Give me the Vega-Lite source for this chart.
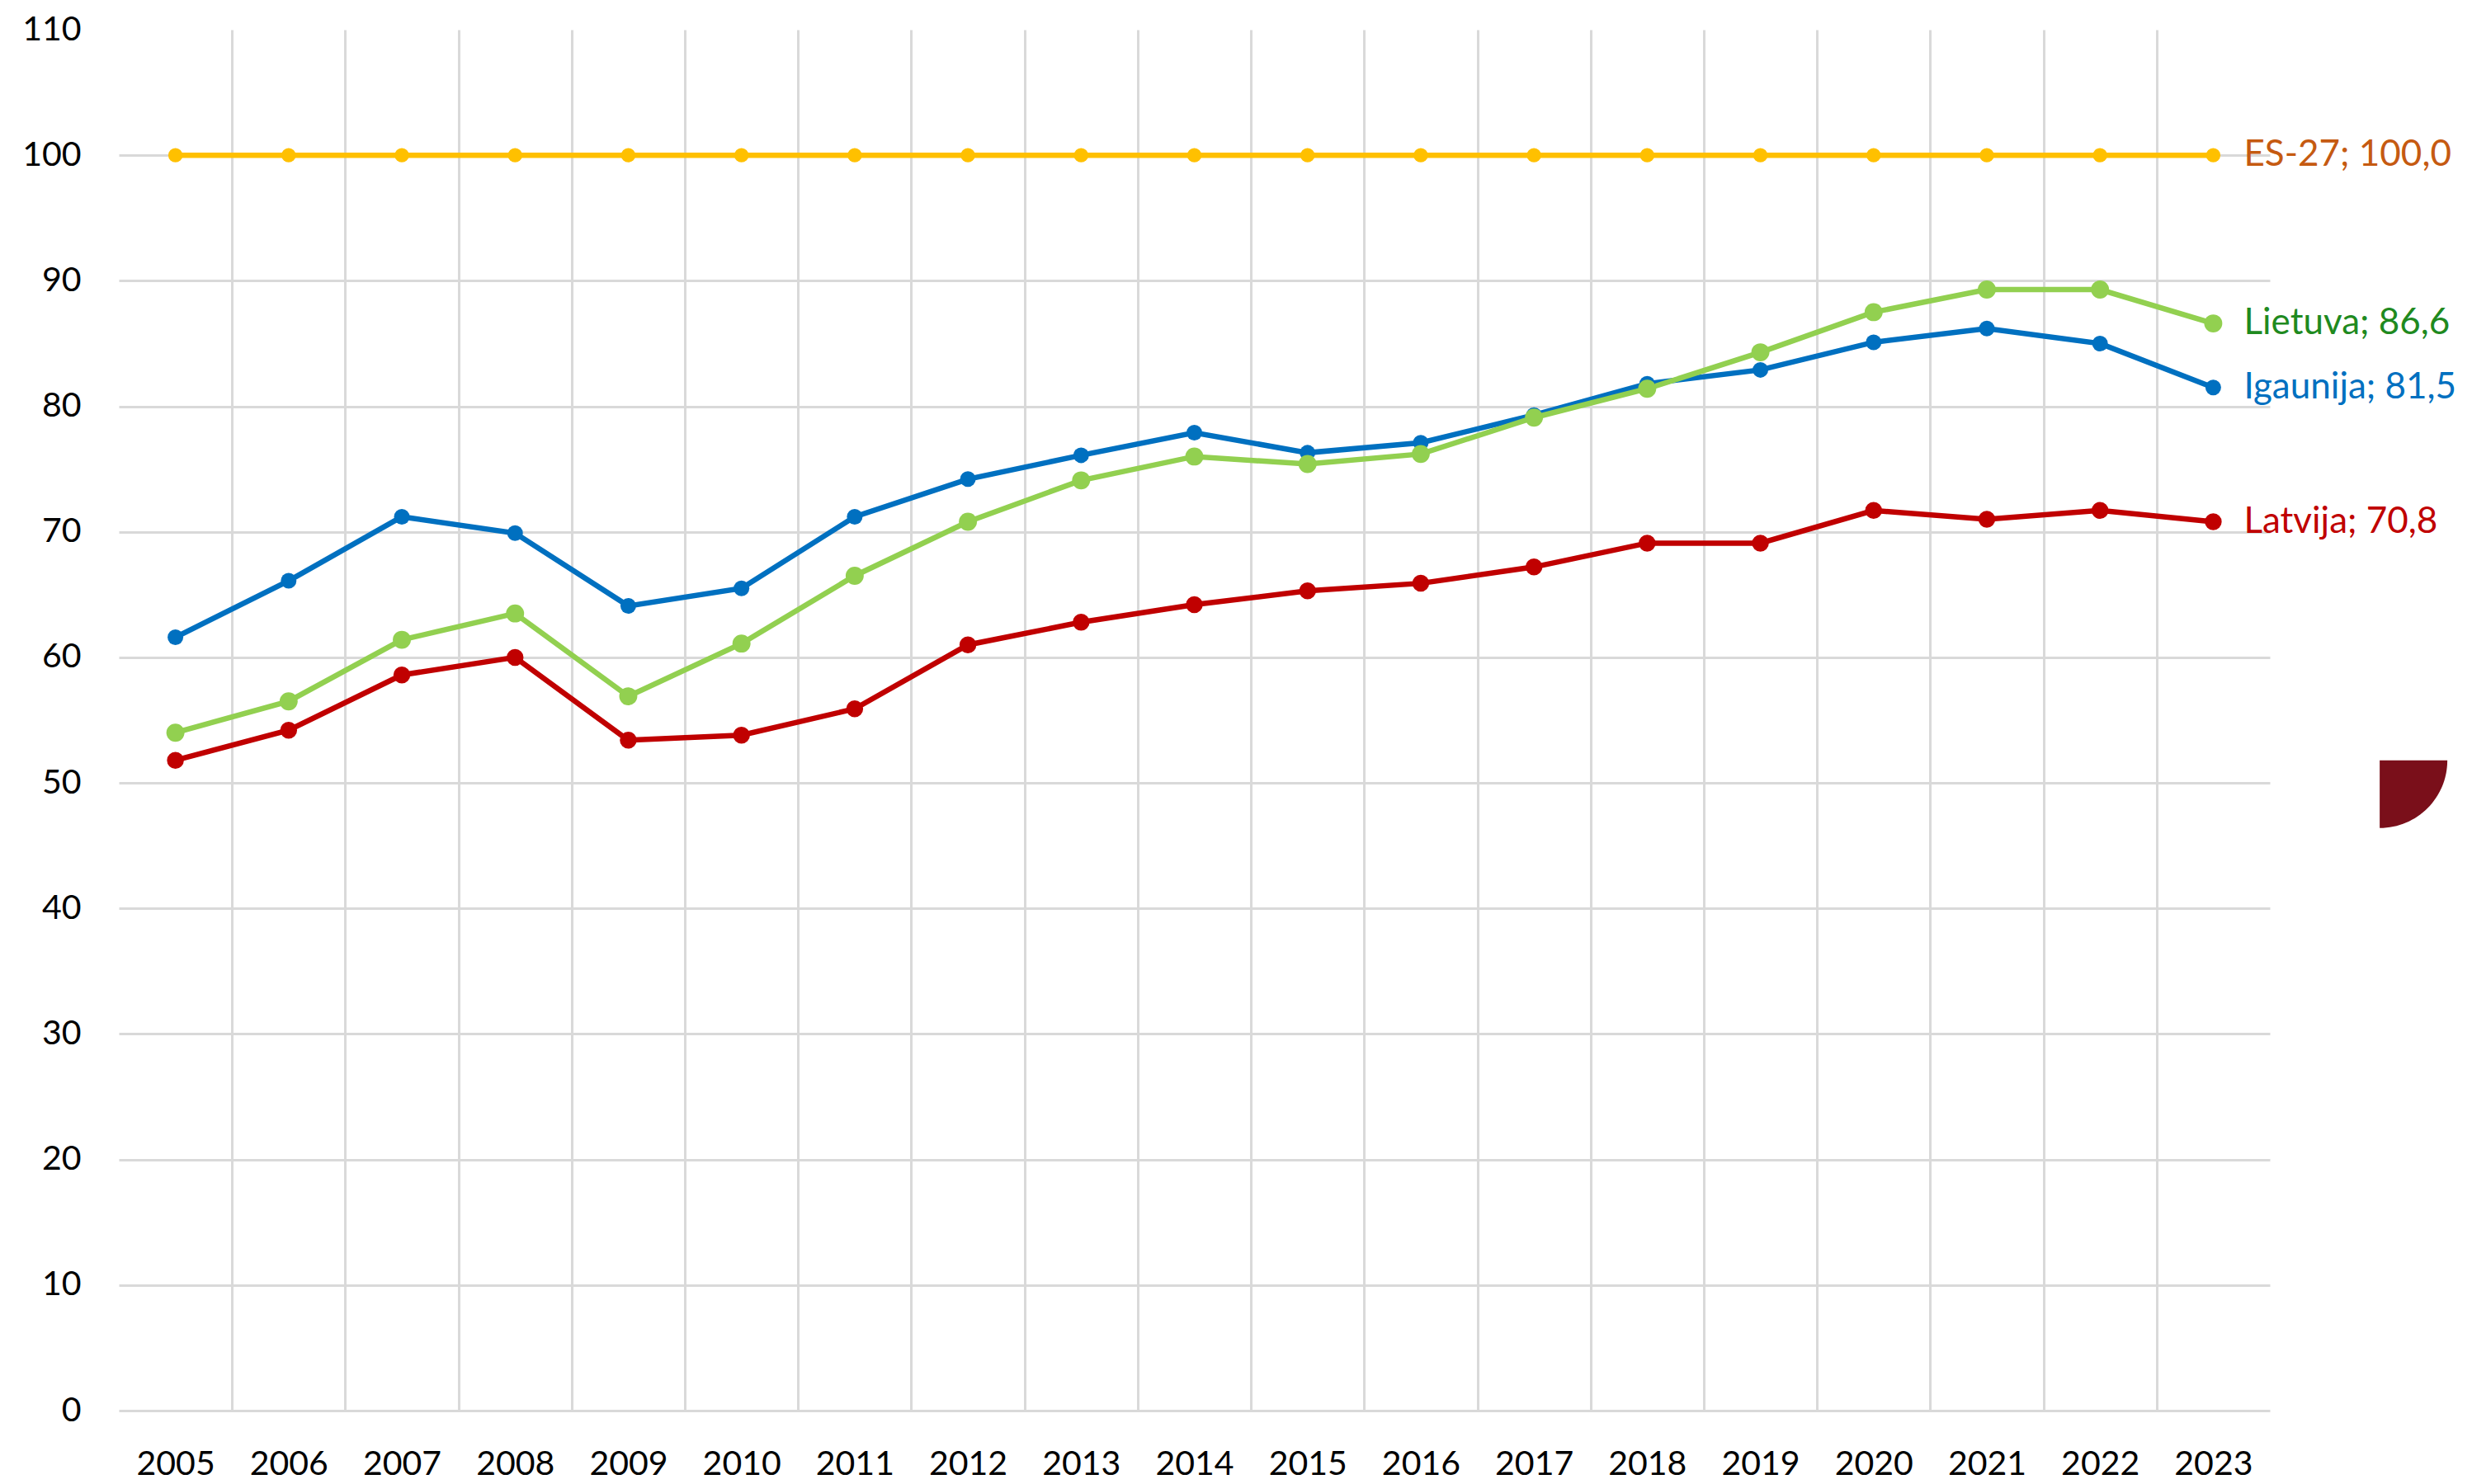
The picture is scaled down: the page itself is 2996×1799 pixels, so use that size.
{
  "$schema": "https://vega.github.io/schema/vega-lite/v6.json",
  "autosize": {"type": "none"},
  "width": 2607,
  "height": 1674,
  "padding": {"left": 144, "top": 36, "right": 245, "bottom": 89},
  "background": "white",
  "config": {
    "view": {"stroke": null},
    "font": "Lato"
  },
  "datasets": {
    "main": [
      {"year": "2005", "series": "ES-27", "value": 100.0},
      {"year": "2006", "series": "ES-27", "value": 100.0},
      {"year": "2007", "series": "ES-27", "value": 100.0},
      {"year": "2008", "series": "ES-27", "value": 100.0},
      {"year": "2009", "series": "ES-27", "value": 100.0},
      {"year": "2010", "series": "ES-27", "value": 100.0},
      {"year": "2011", "series": "ES-27", "value": 100.0},
      {"year": "2012", "series": "ES-27", "value": 100.0},
      {"year": "2013", "series": "ES-27", "value": 100.0},
      {"year": "2014", "series": "ES-27", "value": 100.0},
      {"year": "2015", "series": "ES-27", "value": 100.0},
      {"year": "2016", "series": "ES-27", "value": 100.0},
      {"year": "2017", "series": "ES-27", "value": 100.0},
      {"year": "2018", "series": "ES-27", "value": 100.0},
      {"year": "2019", "series": "ES-27", "value": 100.0},
      {"year": "2020", "series": "ES-27", "value": 100.0},
      {"year": "2021", "series": "ES-27", "value": 100.0},
      {"year": "2022", "series": "ES-27", "value": 100.0},
      {"year": "2023", "series": "ES-27", "value": 100.0},
      {"year": "2005", "series": "Igaunija", "value": 61.6},
      {"year": "2006", "series": "Igaunija", "value": 66.1},
      {"year": "2007", "series": "Igaunija", "value": 71.2},
      {"year": "2008", "series": "Igaunija", "value": 69.9},
      {"year": "2009", "series": "Igaunija", "value": 64.1},
      {"year": "2010", "series": "Igaunija", "value": 65.5},
      {"year": "2011", "series": "Igaunija", "value": 71.2},
      {"year": "2012", "series": "Igaunija", "value": 74.2},
      {"year": "2013", "series": "Igaunija", "value": 76.1},
      {"year": "2014", "series": "Igaunija", "value": 77.9},
      {"year": "2015", "series": "Igaunija", "value": 76.3},
      {"year": "2016", "series": "Igaunija", "value": 77.1},
      {"year": "2017", "series": "Igaunija", "value": 79.3},
      {"year": "2018", "series": "Igaunija", "value": 81.8},
      {"year": "2019", "series": "Igaunija", "value": 82.9},
      {"year": "2020", "series": "Igaunija", "value": 85.1},
      {"year": "2021", "series": "Igaunija", "value": 86.2},
      {"year": "2022", "series": "Igaunija", "value": 85.0},
      {"year": "2023", "series": "Igaunija", "value": 81.5},
      {"year": "2005", "series": "Latvija", "value": 51.8},
      {"year": "2006", "series": "Latvija", "value": 54.2},
      {"year": "2007", "series": "Latvija", "value": 58.6},
      {"year": "2008", "series": "Latvija", "value": 60.0},
      {"year": "2009", "series": "Latvija", "value": 53.4},
      {"year": "2010", "series": "Latvija", "value": 53.8},
      {"year": "2011", "series": "Latvija", "value": 55.9},
      {"year": "2012", "series": "Latvija", "value": 61.0},
      {"year": "2013", "series": "Latvija", "value": 62.8},
      {"year": "2014", "series": "Latvija", "value": 64.2},
      {"year": "2015", "series": "Latvija", "value": 65.3},
      {"year": "2016", "series": "Latvija", "value": 65.9},
      {"year": "2017", "series": "Latvija", "value": 67.2},
      {"year": "2018", "series": "Latvija", "value": 69.1},
      {"year": "2019", "series": "Latvija", "value": 69.1},
      {"year": "2020", "series": "Latvija", "value": 71.7},
      {"year": "2021", "series": "Latvija", "value": 71.0},
      {"year": "2022", "series": "Latvija", "value": 71.7},
      {"year": "2023", "series": "Latvija", "value": 70.8},
      {"year": "2005", "series": "Lietuva", "value": 54.0},
      {"year": "2006", "series": "Lietuva", "value": 56.5},
      {"year": "2007", "series": "Lietuva", "value": 61.4},
      {"year": "2008", "series": "Lietuva", "value": 63.5},
      {"year": "2009", "series": "Lietuva", "value": 56.9},
      {"year": "2010", "series": "Lietuva", "value": 61.1},
      {"year": "2011", "series": "Lietuva", "value": 66.5},
      {"year": "2012", "series": "Lietuva", "value": 70.8},
      {"year": "2013", "series": "Lietuva", "value": 74.1},
      {"year": "2014", "series": "Lietuva", "value": 76.0},
      {"year": "2015", "series": "Lietuva", "value": 75.4},
      {"year": "2016", "series": "Lietuva", "value": 76.2},
      {"year": "2017", "series": "Lietuva", "value": 79.1},
      {"year": "2018", "series": "Lietuva", "value": 81.4},
      {"year": "2019", "series": "Lietuva", "value": 84.3},
      {"year": "2020", "series": "Lietuva", "value": 87.5},
      {"year": "2021", "series": "Lietuva", "value": 89.3},
      {"year": "2022", "series": "Lietuva", "value": 89.3},
      {"year": "2023", "series": "Lietuva", "value": 86.6}
    ]
  },
  "data": {"name": "main"},
  "encoding": {
    "x": {
      "field": "year",
      "type": "ordinal",
      "scale": {"type": "band", "paddingInner": 0, "paddingOuter": 0},
      "axis": {
        "title": null,
        "labelAngle": 0,
        "ticks": false,
        "domain": false,
        "grid": true,
        "tickBand": "extent",
        "gridColor": {"condition": {"test": "datum.value === '2023' || datum.extra", "value": "transparent"}, "value": "#d9d9d9"},
        "gridWidth": 3,
        "labelFont": "Lato",
        "labelFontSize": 41,
        "labelColor": "#000000",
        "labelPadding": 45
      }
    },
    "y": {
      "field": "value",
      "type": "quantitative",
      "scale": {"domain": [0, 110], "nice": false, "zero": true},
      "axis": {
        "title": null,
        "values": [0, 10, 20, 30, 40, 50, 60, 70, 80, 90, 100, 110],
        "ticks": false,
        "domain": false,
        "grid": true,
        "gridColor": {"condition": {"test": "datum.value >= 110", "value": "transparent"}, "value": "#d9d9d9"},
        "gridWidth": 3,
        "labelFont": "Lato",
        "labelFontSize": 41,
        "labelColor": "#000000",
        "labelPadding": 46
      }
    }
  },
  "layer": [
    {
      "mark": {"type": "line", "strokeWidth": 6.5},
      "encoding": {
        "color": {
          "field": "series",
          "type": "nominal",
          "scale": {"domain": ["ES-27", "Igaunija", "Latvija", "Lietuva"], "range": ["#FFC000", "#0070C0", "#C00000", "#92D050"]},
          "legend": null
        }
      }
    },
    {
      "mark": {"type": "point", "filled": true, "opacity": 1, "shape": "circle"},
      "encoding": {
        "color": {
          "field": "series",
          "type": "nominal",
          "scale": {"domain": ["ES-27", "Igaunija", "Latvija", "Lietuva"], "range": ["#FFC000", "#0070C0", "#C00000", "#92D050"]},
          "legend": null
        },
        "size": {
          "field": "series",
          "type": "nominal",
          "scale": {"domain": ["ES-27", "Igaunija", "Latvija", "Lietuva"], "range": [300, 480, 300, 300]},
          "legend": null
        }
      }
    },
    {
      "transform": [
        {"filter": "datum.year === '2023'"},
        {"calculate": "datum.series + '; ' + replace(format(datum.value, '.1f'), '.', ',')", "as": "label"}
      ],
      "mark": {"type": "text", "align": "left", "baseline": "middle", "dx": 37, "font": "Lato", "fontSize": 44},
      "encoding": {
        "text": {"field": "label"},
        "color": {
          "field": "series",
          "type": "nominal",
          "scale": {"domain": ["ES-27", "Igaunija", "Latvija", "Lietuva"], "range": ["#C55A11", "#0070C0", "#C00000", "#1F8A1F"]},
          "legend": null
        }
      }
    },
    {
      "data": {"values": [{"year": "2023", "level": 51.8}]},
      "mark": {"type": "point", "filled": true, "opacity": 1, "strokeWidth": 0, "shape": "M2.46,0 L3.46,0 A1,1 0 0 1 2.46,1 Z", "size": 26896, "fill": "#7A0F1A"},
      "encoding": {
        "x": {"field": "year", "type": "ordinal"},
        "y": {"field": "level", "type": "quantitative"}
      }
    }
  ],
  "resolve": {"scale": {"color": "independent"}}
}
